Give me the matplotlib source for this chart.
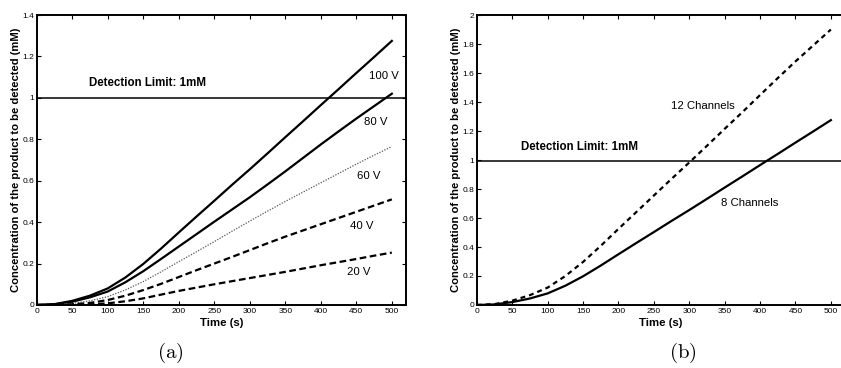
import numpy as np
import matplotlib
matplotlib.use('Agg')
import matplotlib.pyplot as plt

plt.rcParams['font.family'] = ['Liberation Sans', 'DejaVu Sans']
plt.rcParams['mathtext.fontset'] = 'cm'

# (a) voltages
t_a = [0, 25, 50, 75, 100, 125, 150, 175, 200, 225, 250, 275, 300, 325, 350, 375, 400, 425, 450, 475, 500]
c_100v = [0, 0.004, 0.02, 0.045, 0.08, 0.133, 0.198, 0.272, 0.35, 0.427, 0.503, 0.58, 0.655,
          0.732, 0.81, 0.887, 0.965, 1.042, 1.12, 1.197, 1.275]
c_80v = [0, 0.003, 0.016, 0.037, 0.065, 0.11, 0.163, 0.222, 0.282, 0.342, 0.402, 0.461, 0.52,
         0.582, 0.645, 0.71, 0.775, 0.838, 0.9, 0.96, 1.02]
c_60v = [0, 0.001, 0.008, 0.02, 0.04, 0.073, 0.113, 0.16, 0.209, 0.257, 0.306, 0.356, 0.405,
         0.453, 0.5, 0.545, 0.59, 0.635, 0.68, 0.723, 0.765]
c_40v = [0, 0, 0.003, 0.01, 0.024, 0.045, 0.072, 0.102, 0.135, 0.168, 0.2, 0.232, 0.265,
         0.298, 0.33, 0.36, 0.39, 0.42, 0.45, 0.48, 0.51]
c_20v = [0, 0, 0.001, 0.003, 0.008, 0.018, 0.032, 0.05, 0.068, 0.084, 0.1, 0.115, 0.13,
         0.145, 0.16, 0.176, 0.192, 0.207, 0.222, 0.238, 0.253]
labels_a = ['100 V', '80 V', '60 V', '40 V', '20 V']

# (b) channels
t_b = [0, 25, 50, 75, 100, 125, 150, 175, 200, 225, 250, 275, 300, 325, 350, 375, 400, 425, 450, 475, 500]
c_8ch = [0, 0.004, 0.02, 0.045, 0.08, 0.133, 0.198, 0.272, 0.35, 0.427, 0.503, 0.58, 0.655,
         0.732, 0.81, 0.887, 0.965, 1.042, 1.12, 1.197, 1.275]
c_12ch = [0, 0.006, 0.03, 0.068, 0.12, 0.2, 0.297, 0.408, 0.525, 0.64, 0.755, 0.87, 0.983,
          1.098, 1.215, 1.33, 1.448, 1.565, 1.68, 1.79, 1.9]

limit_a = 1.0
limit_b = 0.99

fig = plt.figure(figsize=(8.41, 3.68), dpi=100)
ax1 = fig.add_axes([0.0436, 0.1712, 0.4392, 0.788])
ax2 = fig.add_axes([0.567, 0.1712, 0.4378, 0.788])

lw = 1.6
ax1.plot(t_a, c_100v, color='black', lw=lw)
ax1.plot(t_a, c_80v, color='black', lw=lw)
ax1.plot(t_a, c_60v, color='#555555', lw=0.9, linestyle=(0, (1, 1.2)))
ax1.plot(t_a, c_40v, color='black', lw=lw, linestyle=(0, (3, 1.6)))
ax1.plot(t_a, c_20v, color='black', lw=lw, linestyle=(0, (3, 1.6)))
ax1.axhline(limit_a, color='black', lw=1.1)

ax1.text(74, 1.07, 'Detection Limit: 1mM', fontsize=8.3, fontweight='bold', va='center')
label_pos = [(489, 1.106), (477, 0.885), (467, 0.624), (457, 0.383), (453, 0.161)]
for lab, (x, y) in zip(labels_a, label_pos):
    ax1.text(x, y, lab, fontsize=8.2, ha='center', va='center')

ax2.plot(t_b, c_12ch, color='black', lw=lw, linestyle=(0, (2.2, 1.8)))
ax2.plot(t_b, c_8ch, color='black', lw=lw)
ax2.axhline(limit_b, color='black', lw=1.1)
ax2.text(63, 1.092, 'Detection Limit: 1mM', fontsize=8.3, fontweight='bold', va='center')
ax2.text(319, 1.372, '12 Channels', fontsize=8.2, ha='center', va='center')
ax2.text(385, 0.706, '8 Channels', fontsize=8.2, ha='center', va='center')

ax1.set_ylim(0, 1.4)
ax1.set_yticks(np.arange(0, 1.41, 0.2))
ax1.set_yticklabels(['0', '0.2', '0.4', '0.6', '0.8', '1', '1.2', '1.4'])
ax2.set_ylim(0, 2)
ax2.set_yticks(np.arange(0, 2.01, 0.2))
ax2.set_yticklabels(['0', '0.2', '0.4', '0.6', '0.8', '1', '1.2', '1.4', '1.6', '1.8', '2'])

for ax in (ax1, ax2):
    ax.set_xlim(0, 520)
    ax.set_xticks(np.arange(0, 501, 50))
    ax.tick_params(direction='in', top=True, right=True, labelsize=6, length=3, width=0.8, pad=2)
    for sp in ax.spines.values():
        sp.set_linewidth(1.4)
    ax.set_xlabel('Time (s)', fontsize=8.2, fontweight='bold', labelpad=2)
    ax.set_ylabel('Concentration of the product to be detected (mM)', fontsize=8.1,
                  fontweight='bold', labelpad=1)

fig.text(170 / 841, 1 - 353 / 368, r'$\mathrm{(a)}$', fontsize=15, ha='center', va='center')
fig.text(683 / 841, 1 - 353 / 368, r'$\mathrm{(b)}$', fontsize=15, ha='center', va='center')

fig.savefig('out.png', dpi=100)
